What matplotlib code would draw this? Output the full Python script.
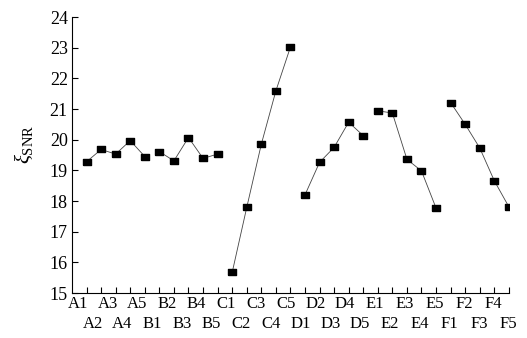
import numpy as np
import matplotlib
matplotlib.use("Agg")
import matplotlib.pyplot as plt

# ----------------------------------
# Data
# ----------------------------------
groups = ["A", "B", "C", "D", "E", "F"]
labels = [g + str(i) for g in groups for i in range(1, 6)]

snr_a = [19.28, 19.68, 19.53, 19.97, 19.45]
snr_b = [19.61, 19.31, 20.07, 19.39, 19.53]
snr_c = [15.67, 17.79, 19.85, 21.59, 23.02]
snr_d = [18.20, 19.26, 19.75, 20.57, 20.13]
snr_e = [20.94, 20.87, 19.36, 18.98, 17.77]
snr_f = [21.21, 20.50, 19.73, 18.66, 17.81]
series = [snr_a, snr_b, snr_c, snr_d, snr_e, snr_f]

yticks = list(range(15, 25))

# ----------------------------------
# Style
# ----------------------------------
plt.rcParams["font.family"] = ["Liberation Serif", "DejaVu Serif"]
plt.rcParams["mathtext.fontset"] = "custom"
plt.rcParams["mathtext.rm"] = "Liberation Serif"
plt.rcParams["mathtext.it"] = "Liberation Serif:italic"

# slightly wide square marker
box = [(-1.2, -1), (1.2, -1), (1.2, 1), (-1.2, 1), (-1.2, -1)]

fig = plt.figure(figsize=(5.27, 3.38), dpi=100)
ax = fig.add_axes([0.1366, 0.1331, 0.829, 0.8166])

for k, vals in enumerate(series):
    x = np.arange(k * 5, k * 5 + 5)
    ax.plot(x, vals, color="#444444", lw=0.6,
            marker=box, markersize=5.8,
            markerfacecolor="black", markeredgecolor="black")

ax.set_xlim(-1, 29)
ax.set_ylim(15, 24)
ax.set_yticks(yticks)
ax.set_yticklabels([str(v) for v in yticks], fontsize=13)
ax.set_xticks(np.arange(len(labels)))
ax.tick_params(axis="x", labelbottom=False)
ax.tick_params(direction="in", length=4, width=0.8, pad=3)

# staggered category labels, two rows (slightly spread like the original)
for i, lab in enumerate(labels):
    xpos = -0.6 + i * 1.02
    dy = -2 if i % 2 == 0 else -16.5
    ax.annotate(lab, xy=(xpos, 0), xycoords=("data", "axes fraction"),
                xytext=(0, dy), textcoords="offset points",
                ha="center", va="top", fontsize=12, annotation_clip=False)

ax.spines["top"].set_visible(False)
ax.spines["right"].set_visible(False)
ax.spines["left"].set_linewidth(0.8)
ax.spines["bottom"].set_linewidth(0.8)

ax.set_ylabel(r"$\xi_{\rm SNR}$", fontsize=15)
ax.yaxis.set_label_coords(-0.085, 0.54)

fig.savefig("out.png", dpi=100)
